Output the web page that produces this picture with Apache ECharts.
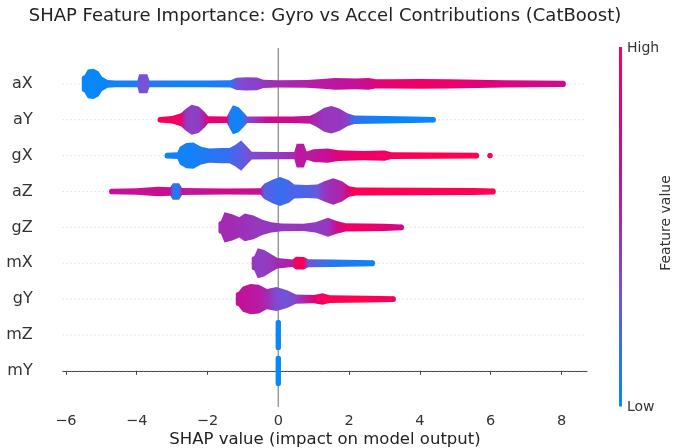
<!DOCTYPE html>
<html><head><meta charset="utf-8">
<script src="https://cdn.jsdelivr.net/npm/echarts@6/dist/echarts.min.js"></script>
<style>html,body{margin:0;padding:0;background:#fff}#c{width:673px;height:448px}</style>
</head><body><div id="c"></div>
<script>
// Features, top to bottom
const features = ['aX','aY','gX','aZ','gZ','mX','gY','mZ','mY'];
const xTicks = [-6,-4,-2,0,2,4,6,8];

// Beeswarm profiles: [SHAP value, point density (0-1), feature value (0=low,1=high)]; null = gap
const aX = [[-5.48,0.45,0.02],[-5.38,0.95,0.02],[-5.22,1.0,0.02],[-5.08,0.8,0.02],[-4.98,0.35,0.03],[-4.82,0.1,0.04],[-4.6,0.05,0.05],
  [-3.98,0.05,0.08],[-3.93,0.55,0.33],[-3.7,0.55,0.33],[-3.64,0.06,0.12],
  [-2.8,0.06,0.05],[-2.0,0.06,0.06],[-1.35,0.08,0.1],[-1.18,0.28,0.32],[-0.9,0.32,0.38],[-0.6,0.3,0.4],[-0.42,0.12,0.45],
  [0.0,0.08,0.5],[0.8,0.1,0.55],[1.25,0.18,0.6],[1.6,0.25,0.62],[2.2,0.22,0.66],[2.55,0.25,0.72],[2.75,0.15,0.8],
  [3.2,0.16,0.86],[4.0,0.18,0.9],[4.8,0.16,0.88],[5.6,0.12,0.82],[6.4,0.08,0.76],[7.3,0.06,0.73],[8.05,0.03,0.7]];
const aY = [[-3.34,0.0,0.95],[-3.0,0.08,0.95],[-2.75,0.3,0.88],[-2.62,0.65,0.45],[-2.45,1.0,0.4],[-2.25,0.85,0.42],[-2.08,0.4,0.6],[-1.98,0.06,0.85],
  [-1.45,0.05,0.8],[-1.38,0.45,0.1],[-1.28,0.95,0.05],[-1.12,0.8,0.05],[-0.97,0.35,0.1],[-0.88,0.05,0.35],
  [-0.3,0.05,0.7],[0.4,0.05,0.72],[0.9,0.1,0.6],[1.05,0.3,0.5],[1.3,0.75,0.45],[1.5,0.9,0.45],[1.72,0.7,0.45],[1.95,0.3,0.4],[2.15,0.12,0.15],
  [3.0,0.08,0.03],[3.8,0.05,0.02],[4.38,0.0,0.02]];
const gX = [[-3.14,0.02,0.05],[-2.85,0.06,0.05],[-2.78,0.5,0.05],[-2.6,0.8,0.05],[-2.4,0.85,0.06],[-2.18,0.5,0.08],[-1.95,0.35,0.1],[-1.6,0.4,0.14],[-1.38,0.4,0.16],[-1.22,0.65,0.22],[-1.05,1.0,0.25],[-0.9,0.55,0.3],[-0.75,0.1,0.36],
  [0.0,0.07,0.42],[0.45,0.07,0.5],[0.52,0.75,0.62],[0.72,0.75,0.62],[0.8,0.12,0.6],[1.0,0.3,0.62],[1.4,0.35,0.68],[1.7,0.22,0.8],[2.4,0.16,0.9],[3.0,0.2,0.9],[3.2,0.06,0.95],[4.5,0.04,1.0],[5.6,0.01,1.0],
  null,[5.98,0.0,1.0]];
const aZ = [[-4.71,0.0,0.65],[-4.0,0.05,0.66],[-3.4,0.16,0.68],[-3.05,0.12,0.68],[-2.98,0.45,0.12],[-2.8,0.45,0.12],[-2.72,0.06,0.6],
  [-1.5,0.03,0.72],[-0.5,0.05,0.65],[-0.4,0.4,0.25],[-0.15,0.75,0.2],[0.05,0.95,0.15],[0.3,0.7,0.2],[0.45,0.35,0.2],[0.8,0.3,0.22],[1.1,0.35,0.28],[1.3,0.6,0.45],[1.55,0.85,0.5],[1.8,0.6,0.55],[2.0,0.2,0.85],[2.2,0.1,1.0],[4.0,0.08,1.0],[5.5,0.06,1.0],[6.07,0.02,1.0]];
const gZ = [[-1.62,0.3,0.5],[-1.52,1.0,0.5],[-1.3,0.85,0.5],[-1.1,0.6,0.48],[-0.95,0.9,0.47],[-0.7,0.75,0.45],[-0.45,0.4,0.45],[-0.2,0.2,0.44],[0.1,0.1,0.44],[0.7,0.08,0.45],[1.05,0.2,0.42],[1.4,0.55,0.45],[1.65,0.3,0.7],[1.9,0.12,0.88],[2.5,0.1,0.9],[3.0,0.08,0.82],[3.48,0.02,0.72]];
const mX = [[-0.68,0.35,0.45],[-0.58,1.0,0.42],[-0.4,0.85,0.42],[-0.2,0.5,0.45],[-0.02,0.2,0.5],[0.4,0.08,0.6],[0.5,0.3,0.95],[0.72,0.28,0.95],[0.85,0.1,0.3],[1.5,0.08,0.1],[2.66,0.02,0.05]];
const gY = [[-1.13,0.35,0.65],[-1.0,0.8,0.65],[-0.78,1.0,0.62],[-0.55,0.95,0.6],[-0.32,0.6,0.5],[-0.05,0.75,0.35],[0.25,0.5,0.3],[0.5,0.15,0.4],[1.0,0.12,0.8],[1.25,0.25,0.95],[1.45,0.1,1.0],[2.5,0.06,1.0],[3.25,0.01,0.95]];
const mZ = [[0,1.0,0.02]];
const mY = [[0,1.0,0.02]];

const profiles = {aX, aY, gX, aZ, gZ, mX, gY, mZ, mY};
const colormap = ['#008bfb','#3a6cf0','#7b4fd6','#a32bb3','#c60f96','#e60074','#ff0052'];
const FONT = 'DejaVu Sans';

function rowOf(i){ return features.length - 1 - i; }

function renderGuide(params, api){
  const i = params.dataIndex;
  const cs = params.coordSys;
  const p = api.coord([0, rowOf(i)]);
  const children = [{
    type:'line', shape:{x1:cs.x, y1:p[1], x2:cs.x+cs.width, y2:p[1]},
    style:{stroke:'#cccccc', lineWidth:1, lineDash:[1,3]}
  }];
  if (i === 0) {
    const t = api.coord([0, 9]), b = api.coord([0, -1]);
    children.push({type:'line', shape:{x1:t[0], y1:t[1], x2:b[0], y2:b[1]},
      style:{stroke:'#999999', lineWidth:1.5}, z2:5});
  }
  return {type:'group', children};
}

function renderSwarm(params, api){
  const i = params.dataIndex;
  const row = rowOf(i);
  const prof = profiles[features[i]];
  const rowPx = api.size([0,1])[1];
  const r = rowPx*0.07;
  const runs = []; let cur = [];
  prof.forEach(p => { if (p === null) { if (cur.length) runs.push(cur); cur = []; } else cur.push(p); });
  if (cur.length) runs.push(cur);
  const children = [];
  runs.forEach(run => {
    const pts = run.map(p => {
      const c = api.coord([p[0], row]);
      return {x:c[0], y:c[1], h: rowPx*(0.075 + 0.345*p[1]), col: echarts.color.lerp(p[2], colormap)};
    });
    const x0 = pts[0].x - r, x1 = pts[pts.length-1].x + r;
    const span = Math.max(x1 - x0, 1);
    const stops = pts.map(p => ({offset: Math.min(1, Math.max(0, (p.x - x0)/span)), color: p.col}));
    const fill = new echarts.graphic.LinearGradient(x0, 0, x1, 0, stops, true);
    if (pts.length > 1) {
      const poly = pts.map(p => [p.x, p.y - p.h]).concat(pts.slice().reverse().map(p => [p.x, p.y + p.h]));
      children.push({type:'polygon', shape:{points: poly}, style:{fill}});
    }
    [pts[0], pts[pts.length-1]].forEach(p => {
      children.push({type:'rect', shape:{x:p.x - r, y:p.y - p.h, width:2*r, height:2*p.h, r:r}, style:{fill}});
    });
  });
  return {type:'group', children};
}

const chart = echarts.init(document.getElementById('c'), null, {renderer:'canvas'});
chart.setOption({
  animation:false,
  backgroundColor:'#fff',
  grid:{left:62.7, right:86, top:48, bottom:41.3, containLabel:false},
  xAxis:{type:'value', min:-6.09, max:8.72,
    axisLine:{show:true, lineStyle:{color:'#444', width:1}},
    axisTick:{show:true, customValues:xTicks, length:4, lineStyle:{color:'#444'}},
    axisLabel:{customValues:xTicks, fontFamily:FONT, fontSize:14.5, color:'#333', margin:7,
      formatter: v => (v < 0 ? '\u2212' : '') + Math.abs(v)},
    splitLine:{show:false}},
  yAxis:{type:'value', min:-1, max:9, interval:1,
    axisLine:{show:false}, axisTick:{show:false}, splitLine:{show:false},
    axisLabel:{fontFamily:FONT, fontSize:16, color:'#333', margin:30,
      formatter: v => (v >= 0 && v <= 8) ? features[8 - v] : ''}},
  series:[
    {type:'custom', name:'guides', z:1, silent:true, renderItem:renderGuide,
      data: features.map((f,i)=>[0, rowOf(i)]), encode:{x:0, y:1}, clip:false},
    {type:'custom', name:'swarm', z:2, silent:true, renderItem:renderSwarm,
      data: features.map((f,i)=>[0, rowOf(i)]), encode:{x:0, y:1}, clip:false}
  ],
  graphic:[
    {type:'text', x:325, y:16, style:{text:'SHAP Feature Importance: Gyro vs Accel Contributions (CatBoost)', fontFamily:FONT, fontSize:18, fill:'#222', textAlign:'center', textVerticalAlign:'middle'}},
    {type:'text', x:325, y:440, style:{text:'SHAP value (impact on model output)', fontFamily:FONT, fontSize:16.5, fill:'#222', textAlign:'center', textVerticalAlign:'middle'}},
    {type:'rect', x:619, y:47, shape:{width:3, height:359.5},
      style:{fill:new echarts.graphic.LinearGradient(0,1,0,0, colormap.map((c,k)=>({offset:k/(colormap.length-1), color:c})))}},
    {type:'text', x:627, y:48, style:{text:'High', fontFamily:FONT, fontSize:14, fill:'#333', textAlign:'left', textVerticalAlign:'middle'}},
    {type:'text', x:627, y:407, style:{text:'Low', fontFamily:FONT, fontSize:14, fill:'#333', textAlign:'left', textVerticalAlign:'middle'}},
    {type:'text', x:666, y:223, rotation:Math.PI/2, style:{text:'Feature value', fontFamily:FONT, fontSize:14, fill:'#333', textAlign:'center', textVerticalAlign:'middle'}}
  ]
});
</script></body></html>
